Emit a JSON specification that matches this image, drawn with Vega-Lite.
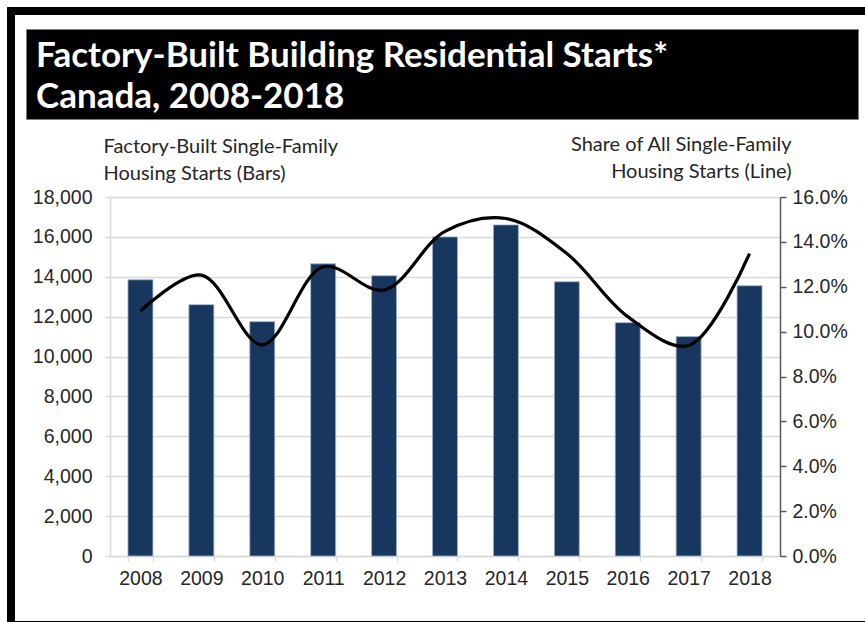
{
  "$schema": "https://vega.github.io/schema/vega-lite/v6.json",
  "background": "white",
  "padding": {"left": 7, "top": 7, "right": 0, "bottom": 0},
  "config": {"view": {"stroke": null}, "concat": {"spacing": 0}},
  "datasets": {
    "starts": [
      {"year": "2008", "units": 13850, "share": 0.1092},
      {"year": "2009", "units": 12600, "share": 0.1252},
      {"year": "2010", "units": 11750, "share": 0.0941},
      {"year": "2011", "units": 14650, "share": 0.1289},
      {"year": "2012", "units": 14050, "share": 0.1185},
      {"year": "2013", "units": 16000, "share": 0.1447},
      {"year": "2014", "units": 16600, "share": 0.1504},
      {"year": "2015", "units": 13750, "share": 0.1348},
      {"year": "2016", "units": 11700, "share": 0.1067},
      {"year": "2017", "units": 11000, "share": 0.0938},
      {"year": "2018", "units": 13550, "share": 0.1348}
    ],
    "heading": [
      {"line": 1, "text": "Factory-Built Building Residential Starts*"},
      {"line": 2, "text": "Canada, 2008-2018"}
    ]
  },
  "spacing": 0,
  "hconcat": [
    {
      "width": 8, "height": 615,
      "view": {"fill": "black", "stroke": null},
      "data": {"values": []},
      "mark": "point"
    },
    {
      "spacing": 0,
      "vconcat": [
        {
          "width": 850, "height": 8,
          "view": {"fill": "black", "stroke": null},
          "data": {"values": []},
          "mark": "point"
        },
        {
          "spacing": 0,
          "hconcat": [
            {
              "width": 10, "height": 103,
              "data": {"values": []},
              "mark": "point"
            },
            {
              "spacing": 0,
              "vconcat": [
                {
                  "width": 832, "height": 13,
                  "data": {"values": []},
                  "mark": "point"
                },
                {
                  "width": 832, "height": 90,
                  "view": {"fill": "black", "stroke": "#7f7f7f", "strokeWidth": 1},
                  "data": {"name": "heading"},
                  "mark": {"type": "text", "align": "left", "baseline": "alphabetic", "color": "white", "font": "Lato", "fontSize": 35, "fontWeight": "bold"},
                  "encoding": {
                    "x": {"datum": 0, "type": "quantitative", "scale": {"domain": [0, 1], "range": [10, 832]}, "axis": null},
                    "y": {"field": "line", "type": "ordinal", "scale": {"type": "point", "range": [38, 79], "padding": 0}, "axis": null},
                    "text": {"field": "text"}
                  }
                }
              ]
            }
          ]
        },
        {
          "width": 850, "height": 501,
          "view": {"fill": "white", "stroke": null},
          "data": {"name": "starts"},
          "layer": [
            {
              "mark": {"type": "bar", "color": "#17375e", "stroke": "#9fb4cc", "strokeWidth": 0.8},
              "encoding": {
                "x": {
                  "field": "year", "type": "ordinal",
                  "scale": {"range": [95, 765], "paddingInner": 0.59, "paddingOuter": 0.295},
                  "axis": {
                    "orient": "bottom", "offset": -65, "title": null,
                    "tickBand": "extent", "tickSize": 5, "tickColor": "#d9d9d9", "tickWidth": 1.5,
                    "domainColor": "#d9d9d9", "domainWidth": 1.5,
                    "labelAngle": 0, "labelPadding": 8.5,
                    "labelFont": "Liberation Sans", "labelFontSize": 19.5, "labelColor": "#262626",
                    "grid": false
                  }
                },
                "y": {
                  "field": "units", "type": "quantitative",
                  "scale": {"domain": [0, 18000], "range": [436, 77], "nice": false, "zero": true},
                  "axis": {
                    "orient": "left", "offset": -95,
                    "values": [0, 2000, 4000, 6000, 8000, 10000, 12000, 14000, 16000, 18000],
                    "format": ",.0f",
                    "labelFont": "Liberation Sans", "labelFontSize": 19.5, "labelColor": "#262626",
                    "labelPadding": 13,
                    "tickSize": 5, "tickColor": "#d9d9d9", "tickWidth": 1.5,
                    "domainColor": "#d9d9d9", "domainWidth": 1.5,
                    "grid": true, "gridColor": "#d9d9d9", "gridWidth": 1.5,
                    "title": ["Factory-Built Single-Family", "Housing Starts (Bars)"],
                    "titleAngle": 0, "titleAlign": "left", "titleBaseline": "alphabetic",
                    "titleX": -7, "titleY": 32,
                    "titleFont": "Lato", "titleFontSize": 20, "titleFontWeight": "normal",
                    "titleColor": "#262626", "titleLineHeight": 27
                  }
                }
              }
            },
            {
              "mark": {"type": "line", "interpolate": "catmull-rom", "color": "black", "strokeWidth": 3.2},
              "encoding": {
                "x": {"field": "year", "type": "ordinal"},
                "y": {
                  "field": "share", "type": "quantitative",
                  "scale": {"domain": [0, 0.16], "range": [436, 77], "nice": false, "zero": true},
                  "axis": {
                    "orient": "right", "offset": -85,
                    "values": [0, 0.02, 0.04, 0.06, 0.08, 0.1, 0.12, 0.14, 0.16],
                    "format": ".1%",
                    "labelFont": "Liberation Sans", "labelFontSize": 19.5, "labelColor": "#262626",
                    "labelPadding": 6,
                    "tickSize": 6, "tickColor": "#595959", "tickWidth": 1.5,
                    "domainColor": "#595959", "domainWidth": 1.5,
                    "grid": false,
                    "title": ["Share of All Single-Family", "Housing Starts (Line)"],
                    "titleAngle": 0, "titleAlign": "right", "titleBaseline": "alphabetic",
                    "titleX": 11, "titleY": 30,
                    "titleFont": "Lato", "titleFontSize": 20, "titleFontWeight": "normal",
                    "titleColor": "#262626", "titleLineHeight": 27
                  }
                }
              }
            }
          ],
          "resolve": {"scale": {"y": "independent"}}
        },
        {
          "width": 850, "height": 3,
          "view": {"fill": "black", "stroke": null},
          "data": {"values": []},
          "mark": "point"
        }
      ]
    }
  ]
}
